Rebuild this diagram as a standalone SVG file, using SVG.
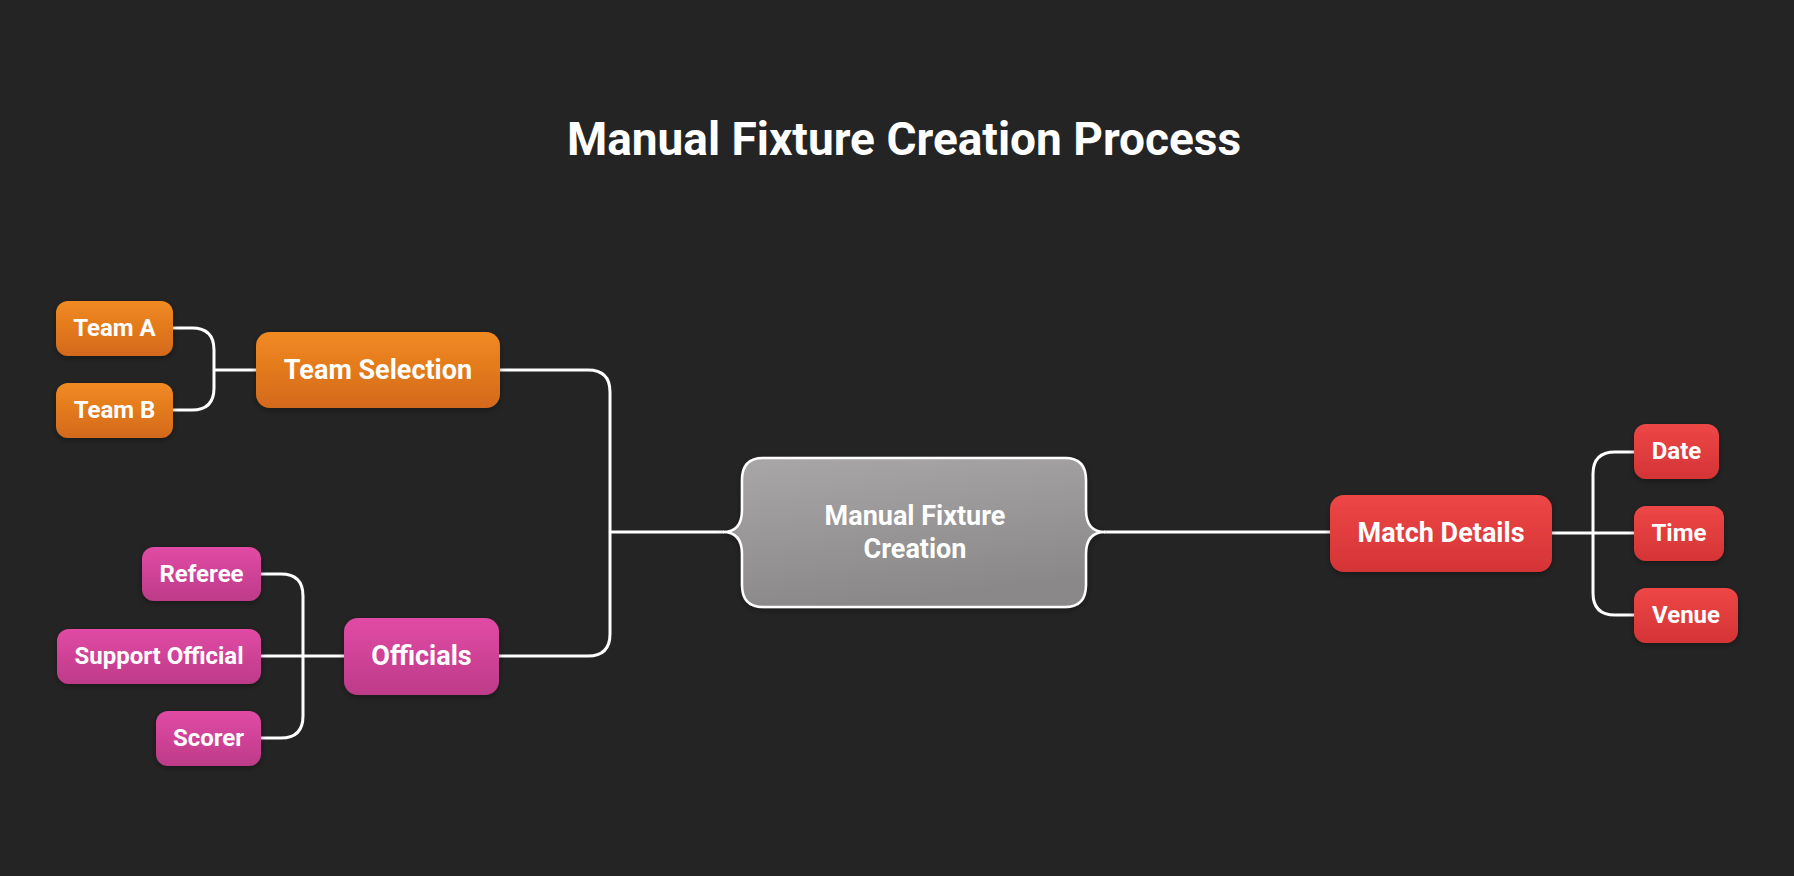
<svg xmlns="http://www.w3.org/2000/svg" width="1794" height="876" viewBox="0 0 1794 876">
<defs>
<linearGradient id="gO" x1="0" y1="0" x2="0" y2="1"><stop offset="0" stop-color="#F28A22"/><stop offset="1" stop-color="#D3691A"/></linearGradient>
<linearGradient id="gP" x1="0" y1="0" x2="0" y2="1"><stop offset="0" stop-color="#E14AA5"/><stop offset="1" stop-color="#BD3B88"/></linearGradient>
<linearGradient id="gR" x1="0" y1="0" x2="0" y2="1"><stop offset="0" stop-color="#EE4646"/><stop offset="1" stop-color="#D43436"/></linearGradient>
<linearGradient id="gG" x1="0" y1="0" x2="0.3" y2="1"><stop offset="0" stop-color="#A9A7A7"/><stop offset="1" stop-color="#8A8888"/></linearGradient>
<filter id="sh" x="-20%" y="-20%" width="140%" height="150%"><feDropShadow dx="0" dy="2" stdDeviation="3" flood-color="#000" flood-opacity="0.35"/></filter>
</defs>
<style>
.t{font-family:Roboto,"Liberation Sans",sans-serif;font-weight:700;fill:#fff;text-anchor:middle}
.c{font-size:24px}
.p{font-size:27px}
.o{fill:url(#gO)}
.k{fill:url(#gP)}
.r{fill:url(#gR)}
.ln{fill:none;stroke:#fff;stroke-width:3}
</style>
<rect width="1794" height="876" fill="#242424"/>
<text class="t" x="904" y="155" font-size="46">Manual Fixture Creation Process</text>
<g id="connectors" class="ln">
<path d="M173 328 H192 Q214 328 214 350 V388 Q214 410 192 410 H173"/>
<path d="M214 370 H256"/>
<path d="M500 370 H588 Q610 370 610 392 V634 Q610 656 588 656 H499"/>
<path d="M610 532 H724"/>
<path d="M1104 532 H1330"/>
<path d="M1552 533 H1634"/>
<path d="M1634 452 H1615 Q1593 452 1593 474 V593 Q1593 615 1615 615 H1634"/>
<path d="M261 574 H281 Q303 574 303 596 V716 Q303 738 281 738 H261"/>
<path d="M261 656 H344"/>
</g>
<g id="central">
<path d="M763 458 H1065 Q1086 458 1086 480 V510 Q1086 532 1105 532 Q1086 532 1086 554 V585 Q1086 607 1065 607 H763 Q742 607 742 585 V554 Q742 532 723 532 Q742 532 742 510 V480 Q742 458 763 458 Z" fill="url(#gG)" stroke="#fff" stroke-width="2.5" filter="url(#sh)"/>
<text class="t p" x="915" y="525">Manual Fixture</text>
<text class="t p" x="915" y="558">Creation</text>
</g>
<g id="team-selection">
<rect class="o" x="256" y="332" width="244" height="76" rx="14" filter="url(#sh)"/>
<text class="t p" x="378" y="379">Team Selection</text>
</g>
<g id="team-a">
<rect class="o" x="56" y="301" width="117" height="55" rx="12" filter="url(#sh)"/>
<text class="t c" x="114.5" y="336">Team A</text>
</g>
<g id="team-b">
<rect class="o" x="56" y="383" width="117" height="55" rx="12" filter="url(#sh)"/>
<text class="t c" x="114.5" y="418">Team B</text>
</g>
<g id="officials">
<rect class="k" x="344" y="618" width="155" height="77" rx="14" filter="url(#sh)"/>
<text class="t p" x="421.5" y="665">Officials</text>
</g>
<g id="referee">
<rect class="k" x="142" y="547" width="119" height="54" rx="12" filter="url(#sh)"/>
<text class="t c" x="201.5" y="582">Referee</text>
</g>
<g id="support-official">
<rect class="k" x="57" y="629" width="204" height="55" rx="12" filter="url(#sh)"/>
<text class="t c" x="159" y="664">Support Official</text>
</g>
<g id="scorer">
<rect class="k" x="156" y="711" width="105" height="55" rx="12" filter="url(#sh)"/>
<text class="t c" x="208.5" y="746">Scorer</text>
</g>
<g id="match-details">
<rect class="r" x="1330" y="495" width="222" height="77" rx="14" filter="url(#sh)"/>
<text class="t p" x="1441" y="542">Match Details</text>
</g>
<g id="date">
<rect class="r" x="1634" y="424" width="85" height="55" rx="12" filter="url(#sh)"/>
<text class="t c" x="1676.5" y="459">Date</text>
</g>
<g id="time">
<rect class="r" x="1634" y="506" width="90" height="55" rx="12" filter="url(#sh)"/>
<text class="t c" x="1679" y="541">Time</text>
</g>
<g id="venue">
<rect class="r" x="1634" y="588" width="104" height="55" rx="12" filter="url(#sh)"/>
<text class="t c" x="1686" y="623">Venue</text>
</g>
</svg>
